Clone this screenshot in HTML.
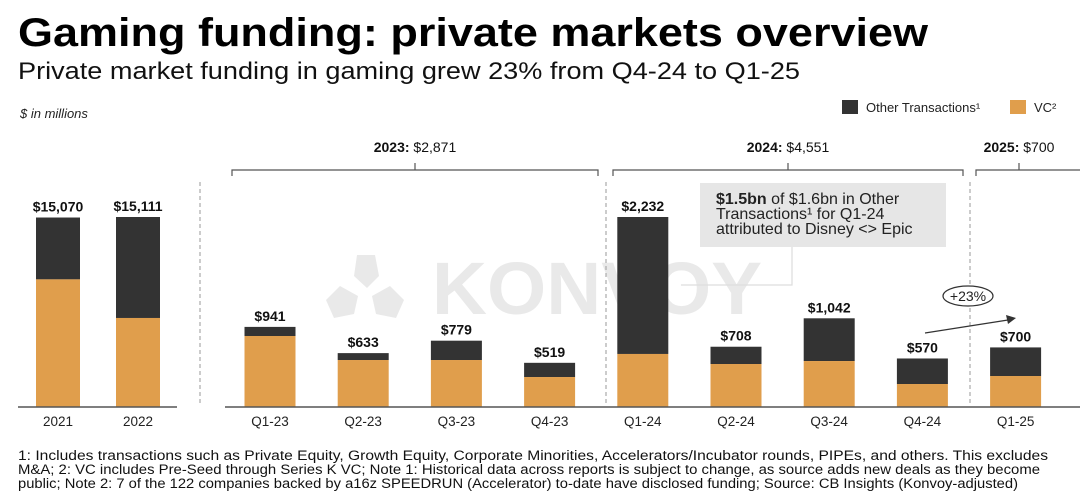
<!DOCTYPE html>
<html><head><meta charset="utf-8"><style>
html,body{margin:0;padding:0;background:#fff}
svg{display:block;font-family:"Liberation Sans",sans-serif}
</style></head><body>
<svg id="chart" width="1080" height="497" viewBox="0 0 1080 497">
<text x="18" y="46" font-size="40" font-weight="bold" fill="#000" textLength="910" lengthAdjust="spacingAndGlyphs">Gaming funding: private markets overview</text>
<text x="18" y="79" font-size="24" fill="#111" textLength="782" lengthAdjust="spacingAndGlyphs">Private market funding in gaming grew 23% from Q4-24 to Q1-25</text>
<text x="20" y="118" font-size="13" font-style="italic" fill="#222">$ in millions</text>
<g>
<rect x="842" y="100" width="16" height="14" fill="#333"/>
<text x="866" y="112" font-size="13" fill="#222">Other Transactions¹</text>
<rect x="1010" y="100" width="16" height="14" fill="#e09e4c"/>
<text x="1034" y="112" font-size="13" fill="#222">VC²</text>
</g>
<text x="432" y="314" font-size="74" font-weight="bold" fill="#e9e9e9" textLength="330" lengthAdjust="spacingAndGlyphs">KONVOY</text>
<g fill="#e9e9e9">
<polygon points="357,255 375,255 379,276 367,288 354,276"/>
<polygon points="326,300 340,286 358,296 354,314 334,318"/>
<polygon points="404,300 390,286 372,296 376,314 396,318"/>
</g>
<g id="dividers" stroke="#aaa" stroke-width="1.2" stroke-dasharray="4,3">
<line x1="200" y1="182" x2="200" y2="405"/>
<line x1="606" y1="182" x2="606" y2="405"/>
<line x1="970" y1="182" x2="970" y2="405"/>
</g>
<g id="brackets" fill="none" stroke="#555" stroke-width="1.2"></g>
<g id="bracket-labels"></g>
<rect x="700" y="183" width="246" height="64" fill="#e6e6e6"/>
<polyline points="792,247 792,285 678,285" fill="none" stroke="#ddd" stroke-width="1.2"/>
<text font-size="16" fill="#222">
<tspan x="716" y="204"><tspan font-weight="bold">$1.5bn</tspan> of $1.6bn in Other</tspan>
<tspan x="716" y="219">Transactions¹ for Q1-24</tspan>
<tspan x="716" y="234">attributed to Disney &lt;&gt; Epic</tspan>
</text>
<g id="annual"></g>
<g id="quarterly"></g>
<circle cx="677" cy="285" r="4" fill="#fff"/>
<line x1="925" y1="333" x2="1008" y2="320" stroke="#333" stroke-width="1.2"/>
<polygon points="1016,318 1006,315 1008,324" fill="#333"/>
<ellipse cx="968" cy="296" rx="25" ry="10" fill="#fff" stroke="#333" stroke-width="1.2"/>
<text x="968" y="301" font-size="14" text-anchor="middle" fill="#222">+23%</text>
<g font-size="13.5" fill="#111">
<text x="18" y="460" textLength="1030" lengthAdjust="spacingAndGlyphs">1: Includes transactions such as Private Equity, Growth Equity, Corporate Minorities, Accelerators/Incubator rounds, PIPEs, and others. This excludes</text>
<text x="18" y="474" textLength="1022" lengthAdjust="spacingAndGlyphs">M&amp;A; 2: VC includes Pre-Seed through Series K VC; Note 1: Historical data across reports is subject to change, as source adds new deals as they become</text>
<text x="18" y="488" textLength="1000" lengthAdjust="spacingAndGlyphs">public; Note 2: 7 of the 122 companies backed by a16z SPEEDRUN (Accelerator) to-date have disclosed funding; Source: CB Insights (Konvoy-adjusted)</text>
</g>
</svg>
<script>
const annualCats = ["2021","2022"];
const annualTotal = [15070,15111];
const annualVC = [10150,7080];
const qCats = ["Q1-23","Q2-23","Q3-23","Q4-23","Q1-24","Q2-24","Q3-24","Q4-24","Q1-25"];
const qTotal = [941,633,779,519,2232,708,1042,570,700];
const qVC = [834,552,552,352,623,505,540,270,364];
const yearLabels = ["2023:","2024:","2025:"];
const yearValues = ["$2,871","$4,551","$700"];

const NS="http://www.w3.org/2000/svg";
const base=407, H=190;
function mk(tag,attrs,parent){const e=document.createElementNS(NS,tag);for(const k in attrs)e.setAttribute(k,attrs[k]);parent.appendChild(e);return e;}
const fmt=v=>"$"+v.toLocaleString("en-US");
function drawGroup(g,cats,tot,vc,x0,step,bw,maxV,prefix){
  const y=v=>base-v/maxV*H;
  cats.forEach((c,i)=>{
    const cx=x0+i*step;
    const other=mk("rect",{x:cx-bw/2,y:y(tot[i]),width:bw,height:y(vc[i])-y(tot[i]),fill:"#333"},g);
    
    
    const v=mk("rect",{x:cx-bw/2,y:y(vc[i]),width:bw,height:base-y(vc[i]),fill:"#e09e4c"},g);
    
    
    const t=mk("text",{x:cx,y:y(tot[i])-6,"font-size":14,"font-weight":"bold","text-anchor":"middle",fill:"#111"},g);
    t.textContent=fmt(tot[i]);
    
    
    const l=mk("text",{x:cx,y:base+19,"font-size":13.5,"text-anchor":"middle",fill:"#222"},g);
    l.textContent=c;
    
    
  });
}
const ag=document.getElementById("annual");
drawGroup(ag,annualCats,annualTotal,annualVC,58,80,44,15111,"annual");
const aAxis=mk("line",{x1:18,y1:base,x2:177,y2:base,stroke:"#555","stroke-width":1.5},ag);


const qg=document.getElementById("quarterly");
drawGroup(qg,qCats,qTotal,qVC,270,93.2,51,2232,"quarter");
const qAxis=mk("line",{x1:225,y1:base,x2:1080,y2:base,stroke:"#555","stroke-width":1.5},qg);



const br=document.getElementById("brackets"), bl=document.getElementById("bracket-labels");
const spans=[[232,598],[613,963],[976,1085]];
spans.forEach((s,i)=>{
  const mid=i==2?1019:(s[0]+s[1])/2;
  const p=mk("path",{d:`M${s[0]},176 V170 H${s[1]} V176 M${mid},170 V163`},br);
  
  
  const t=mk("text",{x:mid,y:152,"font-size":14,"text-anchor":"middle",fill:"#111"},bl);
  t.innerHTML=`<tspan font-weight="bold">${yearLabels[i]}</tspan> ${yearValues[i]}`;
  
  
});
</script>
</body></html>
